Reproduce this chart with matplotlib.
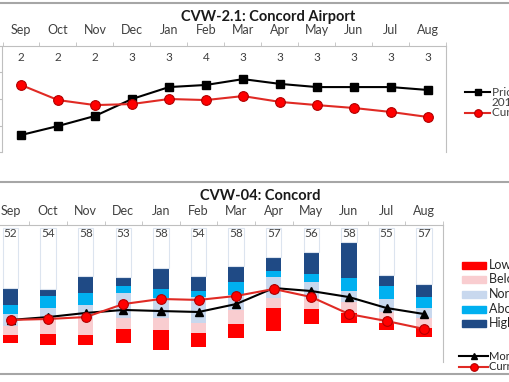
import matplotlib.pyplot as plt
import numpy as np
from matplotlib.lines import Line2D
from matplotlib.patches import Rectangle

plt.rcParams['font.family'] = ['Lato', 'DejaVu Sans']

months = ['Sep', 'Oct', 'Nov', 'Dec', 'Jan', 'Feb', 'Mar', 'Apr', 'May', 'Jun', 'Jul', 'Aug']

# верхний график: CVW-2.1
prior_vals = [6.4, 9.8, 13.6, 20.0, 24.5, 25.3, 27.5, 25.7, 24.5, 24.5, 24.5, 23.4]
current_vals = [25.3, 19.6, 17.7, 18.1, 20.0, 19.6, 21.1, 18.9, 17.7, 16.6, 15.1, 13.2]
top_counts = [2, 2, 2, 3, 3, 4, 3, 3, 3, 3, 3, 3]

# нижний график: CVW-04, границы категорий
low_bottom = [13.9, 12.4, 12.4, 13.9, 8.8, 10.9, 17.5, 22.6, 27.7, 28.5, 23.4, 18.2]
low_top = [19.7, 20.4, 19.7, 24.1, 23.4, 21.2, 27.7, 39.4, 38.7, 35.8, 28.5, 24.8]
below_top = [26.3, 30.7, 32.1, 32.1, 32.1, 28.5, 38.0, 46.7, 46.7, 43.8, 36.5, 32.1]
normal_top = [35.0, 39.4, 41.6, 50.4, 46.7, 47.4, 48.9, 62.0, 58.4, 51.8, 46.0, 39.4]
above_top = [41.6, 48.2, 50.4, 55.5, 53.3, 51.8, 58.4, 66.4, 64.2, 61.3, 55.5, 47.4]
high_top = [54.0, 53.3, 62.8, 62.0, 68.6, 62.8, 70.1, 76.6, 80.3, 87.6, 63.5, 56.9]
column_top = 97.5
years = [52, 54, 58, 53, 58, 54, 58, 57, 56, 58, 55, 57]
monthly_mean = [30.7, 32.8, 35.8, 38.0, 37.2, 36.5, 42.3, 54.0, 51.8, 47.4, 39.4, 35.0]
current_year = [30.7, 31.4, 32.8, 42.3, 46.0, 45.3, 48.2, 53.3, 47.4, 35.0, 29.9, 24.1]

cat_names = ['Lowest', 'Below Normal', 'Normal', 'Above Normal', 'Highest']
cat_colors = ['#FF0000', '#F9CDD0', '#C8D8EE', '#00B0F0', '#1F4A85']

W, H = 510, 382
fig = plt.figure(figsize=(W / 100, H / 100), dpi=100)


def px_axes(l, t, r, b):
    return fig.add_axes([l / W, 1 - b / H, (r - l) / W, (b - t) / H])


def fx(x):
    return x / W


def fy(y):
    return 1 - y / H


axis_gray = '#BFBFBF'
text_gray = '#404040'
x = np.arange(len(months))

# ---- верхний график
ax1 = px_axes(2.5, 46, 446.5, 152)
ax1.plot(x, prior_vals, color='black', lw=1.5, marker='s', ms=6, mfc='black', mec='black', zorder=3)
ax1.plot(x, current_vals, color='#E02A24', lw=1.5, marker='o', ms=7, mfc='#FF0000', mec='#B00000', mew=0.8, zorder=3)
ax1.set_xlim(-0.5, 11.5)
ax1.set_ylim(0, 40)
ax1.xaxis.tick_top()
ax1.set_xticks(x)
ax1.set_xticklabels(months, fontsize=9, color=text_gray)
ax1.tick_params(axis='x', which='major', length=0, pad=7)
ax1.set_xticks(np.arange(-0.5, 12, 1), minor=True)
ax1.tick_params(axis='x', which='minor', length=3, color=axis_gray, top=True, bottom=False)
ax1.set_yticks([0, 10, 20, 30, 40])
ax1.set_yticklabels([])
ax1.tick_params(axis='y', length=3, color=axis_gray)
for s in ['top', 'left', 'right']:
    ax1.spines[s].set_color(axis_gray)
ax1.spines['bottom'].set_visible(False)
for i, c in enumerate(top_counts):
    ax1.text(i, 0.895, str(c), transform=ax1.get_xaxis_transform(), ha='center', va='center',
             fontsize=8.5, color=text_gray)

# ---- нижний график
ax2 = px_axes(-8.3, 225, 443, 362)
levels = [low_bottom, low_top, below_top, normal_top, above_top, high_top]
for k in range(5):
    b = np.array(levels[k])
    h = np.array(levels[k + 1]) - b
    ax2.bar(x, h, bottom=b, width=0.41, color=cat_colors[k], zorder=1)
ax2.bar(x, column_top - np.array(high_top), bottom=high_top, width=0.41, color='white',
        edgecolor='#DCE4EF', lw=0.8, zorder=1)
ax2.plot(x, monthly_mean, color='black', lw=1.5, marker='^', ms=6, mfc='black', mec='black', zorder=3)
ax2.plot(x, current_year, color='#E02A24', lw=1.5, marker='o', ms=7, mfc='#FF0000', mec='#B00000', mew=0.8, zorder=4)
ax2.set_xlim(-0.5, 11.5)
ax2.set_ylim(0, 100)
ax2.xaxis.tick_top()
ax2.set_xticks(x)
ax2.set_xticklabels(months, fontsize=9, color=text_gray)
ax2.tick_params(axis='x', which='major', length=0, pad=6)
ax2.set_xticks(np.arange(-0.5, 12, 1), minor=True)
ax2.tick_params(axis='x', which='minor', length=3, color=axis_gray, top=True, bottom=False)
ax2.set_yticks([])
for s in ['top', 'right']:
    ax2.spines[s].set_color(axis_gray)
ax2.spines['bottom'].set_visible(False)
ax2.spines['left'].set_visible(False)
for i, n in enumerate(years):
    ax2.text(i, 0.94, str(n), transform=ax2.get_xaxis_transform(), ha='center', va='center',
             fontsize=8.5, color=text_gray)

# заголовки
fig.text(fx(268), fy(17), 'CVW-2.1: Concord Airport', ha='center', va='center', fontsize=10.5, fontweight='bold', color='#1A1A1A')
fig.text(fx(260), fy(196), 'CVW-04: Concord', ha='center', va='center', fontsize=10.5, fontweight='bold', color='#1A1A1A')

# рамки
for yy in [3, 182, 374]:
    fig.add_artist(Line2D([0, 1], [fy(yy), fy(yy)], transform=fig.transFigure, color='#A6A6A6', lw=1.5))

# легенда верхнего графика
fig.add_artist(Line2D([fx(465), fx(490)], [fy(92), fy(92)], transform=fig.transFigure, color='black', lw=1.5))
fig.add_artist(Line2D([fx(478)], [fy(92)], transform=fig.transFigure, marker='s', ms=5, color='black'))
fig.text(fx(492), fy(92), 'Prior Average', va='center', fontsize=8.5, color=text_gray)
fig.text(fx(492), fy(103), '2013-2014', va='center', fontsize=8.5, color=text_gray)
fig.add_artist(Line2D([fx(465), fx(490)], [fy(113), fy(113)], transform=fig.transFigure, color='#E02A24', lw=1.5))
fig.add_artist(Line2D([fx(478)], [fy(113)], transform=fig.transFigure, marker='o', ms=5.5, mfc='#FF0000', mec='#B00000', mew=0.8))
fig.text(fx(492), fy(113), 'Current Year', va='center', fontsize=8.5, color=text_gray)

# легенда нижнего графика
for k, yy in enumerate([265, 279, 294, 309, 323]):
    fig.add_artist(Rectangle((fx(462), fy(yy + 3.5)), fx(24), 7 / H, transform=fig.transFigure,
                             color=cat_colors[k]))
    fig.text(fx(489), fy(yy), cat_names[k], va='center', fontsize=9, color='#262626')
fig.add_artist(Line2D([fx(459), fx(488)], [fy(356), fy(356)], transform=fig.transFigure, color='black', lw=1.5))
fig.add_artist(Line2D([fx(474)], [fy(356)], transform=fig.transFigure, marker='^', ms=5, color='black'))
fig.text(fx(489), fy(356), 'Monthly Mean', va='center', fontsize=8, color='#262626')
fig.add_artist(Line2D([fx(459), fx(488)], [fy(367), fy(367)], transform=fig.transFigure, color='#E02A24', lw=1.5))
fig.add_artist(Line2D([fx(474)], [fy(367)], transform=fig.transFigure, marker='o', ms=5.5, mfc='#FF0000', mec='#B00000', mew=0.8))
fig.text(fx(489), fy(367), 'Current Year', va='center', fontsize=8, color='#262626')

fig.savefig('out.png', dpi=100)
